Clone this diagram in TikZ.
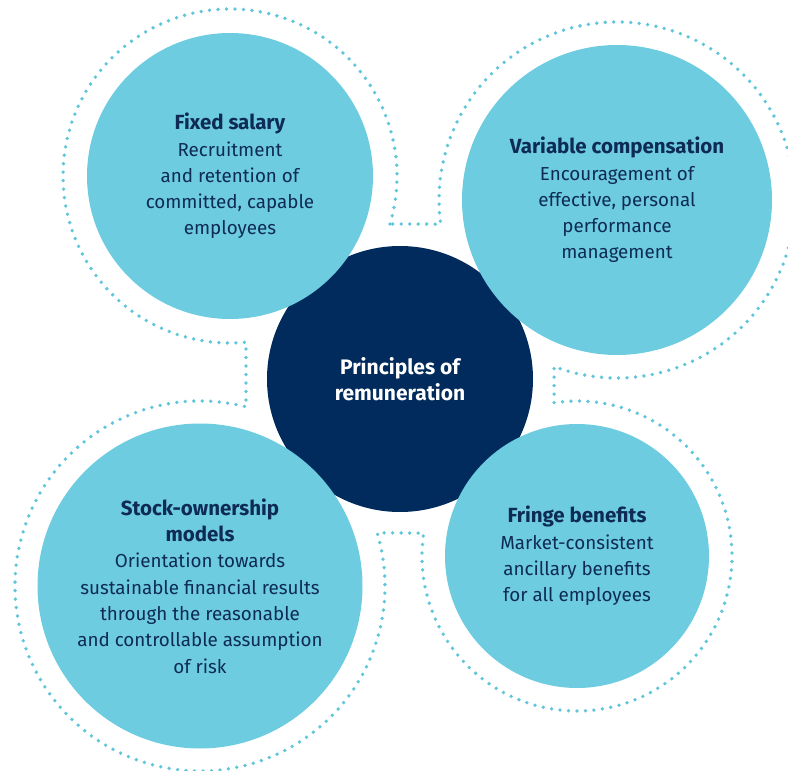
\documentclass[tikz,border=0pt]{standalone}
\usepackage{fontspec}
\setmainfont{Fira Sans}
\usetikzlibrary{calc}
\definecolor{sky}{HTML}{6DCCE0}
\definecolor{navy}{HTML}{002B5C}
\definecolor{ink}{HTML}{0E2A57}
\definecolor{dotblue}{HTML}{62C6DA}
\newcommand{\headl}[1]{{\fontsize{20.5}{26}\selectfont\bfseries #1}}
\begin{document}
\begin{tikzpicture}[x=1pt,y=1pt]
\tikzstyle{every node}+=[inner sep=0pt]
\tikzstyle{hub}=[circle, fill=navy, text=white, font=\fontsize{21}{26}\selectfont\bfseries, align=center]
\tikzstyle{part}=[circle, fill=sky, text=ink, font=\fontsize{18.8}{26.3}\selectfont, align=center]
\tikzstyle{ring}=[dotblue, line width=3.8pt, line cap=round, dash pattern=on 0pt off 8.5pt]
\useasboundingbox (0,0) rectangle (788,-771);
\coordinate (cfix) at (230,-176);
\coordinate (cvar) at (617,-200);
\coordinate (cfri) at (577,-556);
\coordinate (csto) at (200,-586);
\draw [ring] ($(cfix)+(-16.7:167)$) arc[start angle=-16.7, end angle=275.5, radius=167]
  -- ($(csto)+(75.6:185)$) arc[start angle=75.6, end angle=376.7, radius=185]
  -- ($(cfri)+(171.5:155)$) arc[start angle=171.5, end angle=458.5, radius=155]
  -- ($(cvar)+(-110.7:178)$) arc[start angle=-110.7, end angle=187.8, radius=178]
  -- cycle;
\node [hub, minimum size=266pt] (hub) at (400,-379) {Principles of\\remuneration};
\node [part, minimum size=286pt] (fixed) at (cfix) {\headl{Fixed salary}\\Recruitment\\and retention of\\committed, capable\\employees};
\node [part, minimum size=310pt] (variable) at (cvar) {\headl{Variable compensation}\\Encouragement of\\effective, personal\\performance\\management};
\node [part, minimum size=264pt] (fringe) at (cfri) {\headl{Fringe benefits}\\Market-consistent\\ancillary benefits\\for all employees};
\node [part, minimum size=325pt] (stock) at (csto) {\headl{Stock-ownership}\\\headl{models}\\Orientation towards\\sustainable financial results\\through the reasonable\\and controllable assumption\\of risk};
\end{tikzpicture}
\end{document}
